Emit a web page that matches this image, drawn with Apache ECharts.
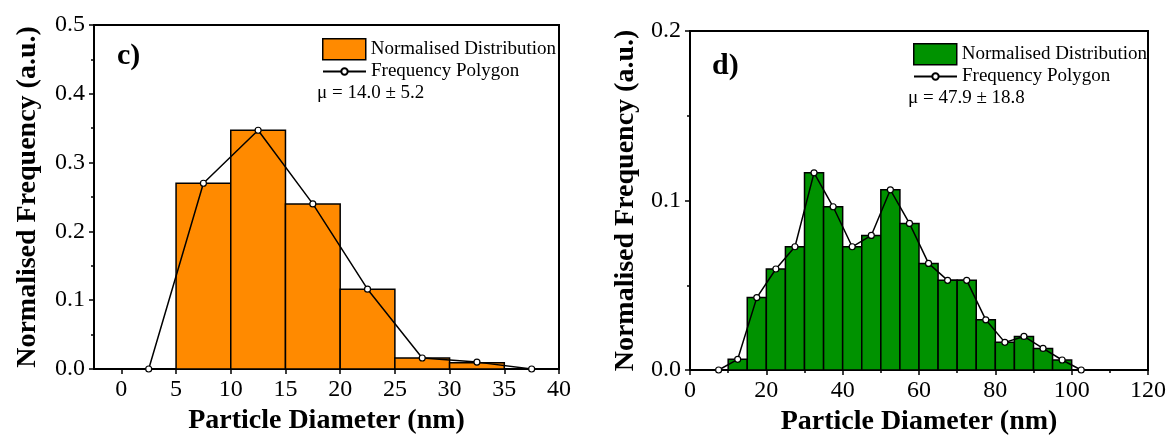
<!DOCTYPE html>
<html>
<head>
<meta charset="utf-8">
<script src="https://cdn.jsdelivr.net/npm/echarts@6/dist/echarts.min.js"></script>
<style>
  html, body { margin: 0; padding: 0; background: #fff; }
  #c { position: absolute; left: 0; top: 0; width: 590px; height: 436px; }
  #d { position: absolute; left: 590px; top: 0; width: 582px; height: 436px; }
</style>
</head>
<body>
<div id="c"></div>
<div id="d"></div>
<script>
// panel c) histogram, bins of 5 nm
const binStartC = [5, 10, 15, 20, 25, 30]
const freqC = [0.270, 0.347, 0.240, 0.116, 0.016, 0.009]
const polyXC = [2.5, 7.5, 12.5, 17.5, 22.5, 27.5, 32.5, 37.5]
const polyYC = [0, 0.270, 0.347, 0.240, 0.116, 0.016, 0.010, 0]
const xTicksC = [0, 5, 10, 15, 20, 25, 30, 35, 40]

// panel d) histogram, bins of 5 nm
const binStartD = [10, 15, 20, 25, 30, 35, 40, 45, 50, 55, 60, 65, 70, 75, 80, 85, 90, 95]
const freqD = [0.0063, 0.0427, 0.0596, 0.0727, 0.1163, 0.0963, 0.0727, 0.0794, 0.1063,
  0.0865, 0.0629, 0.0529, 0.0529, 0.0296, 0.0163, 0.0198, 0.0127, 0.0059]
const polyXD = [7.5, 12.5, 17.5, 22.5, 27.5, 32.5, 37.5, 42.5, 47.5, 52.5, 57.5, 62.5,
  67.5, 72.5, 77.5, 82.5, 87.5, 92.5, 97.5, 102.5]
const polyYD = [0, 0.0063, 0.0427, 0.0596, 0.0727, 0.1163, 0.0963, 0.0727, 0.0794, 0.1063,
  0.0865, 0.0629, 0.0529, 0.0529, 0.0296, 0.0163, 0.0198, 0.0127, 0.0059, 0]

const BIN = 5
const FONT = 'Liberation Serif'

function histOption(cfg) {
  const histData = cfg.starts.map((s, i) => [s, s + BIN, cfg.freq[i]])
  const polyData = cfg.polyX.map((x, i) => [x, cfg.polyY[i]])
  const color = cfg.color

  return {
    animation: false,
    grid: {
      left: cfg.grid.left, top: cfg.grid.top, width: cfg.grid.width, height: cfg.grid.height,
      outerBoundsMode: 'none',
      show: true, borderColor: '#000', borderWidth: 2, backgroundColor: 'transparent',
    },
    xAxis: {
      type: 'value',
      min: cfg.xMin,
      max: cfg.xMax,
      interval: cfg.xInterval,
      name: 'Particle Diameter (nm)',
      nameLocation: 'middle',
      nameGap: 37,
      nameTextStyle: { fontFamily: FONT, fontWeight: 'bold', fontSize: 28, color: '#000' },
      axisLine: { onZero: false, lineStyle: { color: '#000', width: 2 } },
      axisTick: { length: 5, lineStyle: { color: '#000', width: 1.5 }, customValues: cfg.xTicks },
      minorTick: { show: cfg.xMinor, splitNumber: 2, length: 3, lineStyle: { color: '#000', width: 1.5 } },
      axisLabel: { fontFamily: FONT, fontSize: 24, color: '#000', margin: 9, customValues: cfg.xTicks },
      splitLine: { show: false },
    },
    yAxis: {
      type: 'value',
      min: 0,
      max: cfg.yMax,
      interval: 0.1,
      name: 'Normalised Frequency (a.u.)',
      nameLocation: 'middle',
      nameGap: cfg.yNameGap,
      nameTextStyle: { fontFamily: FONT, fontWeight: 'bold', fontSize: 28, color: '#000' },
      axisLine: { onZero: false, lineStyle: { color: '#000', width: 2 } },
      axisTick: { length: 5, lineStyle: { color: '#000', width: 1.5 } },
      minorTick: { show: true, splitNumber: 2, length: 3, lineStyle: { color: '#000', width: 1.5 } },
      axisLabel: { fontFamily: FONT, fontSize: 24, color: '#000', margin: 9, formatter: v => v.toFixed(1) },
      splitLine: { show: false },
      minorSplitLine: { show: false },
    },
    legend: [
      {
        selectedMode: false,
        left: cfg.legendX, top: cfg.legendY,
        itemWidth: 43, itemHeight: 21,
        textStyle: { fontFamily: FONT, fontSize: 19, color: '#000' },
        data: [{ name: 'Normalised Distribution', icon: 'rect',
          itemStyle: { color: color, borderColor: '#000', borderWidth: 1.5 } }],
      },
      {
        selectedMode: false,
        left: cfg.legendX, top: cfg.legendY + cfg.legendStep,
        itemWidth: 43, itemHeight: 8,
        textStyle: { fontFamily: FONT, fontSize: 19, color: '#000' },
        data: ['Frequency Polygon'],
      },
    ],
    graphic: [
      {
        type: 'text', left: cfg.legendX, top: cfg.legendY + cfg.legendStep * 2 + 3,
        style: { text: cfg.mu, font: '19px "Liberation Serif"', fill: '#000' },
      },
      {
        type: 'text', left: cfg.panelX, top: cfg.panelY,
        style: { text: cfg.panel, font: 'bold 30px "Liberation Serif"', fill: '#000' },
      },
    ],
    series: [
      {
        name: 'Normalised Distribution',
        type: 'custom',
        itemStyle: { color: color },
        encode: { x: [0, 1], y: 2 },
        data: histData,
        renderItem: (params, api) => {
          const p0 = api.coord([api.value(0), 0])
          const p1 = api.coord([api.value(1), api.value(2)])
          return {
            type: 'rect',
            shape: { x: p0[0], y: p1[1], width: p1[0] - p0[0], height: p0[1] - p1[1] },
            style: { fill: color, stroke: '#000', lineWidth: 1.5 },
          }
        },
        z: 2,
      },
      {
        name: 'Frequency Polygon',
        type: 'line',
        data: polyData,
        symbol: 'circle',
        symbolSize: 6,
        itemStyle: { color: '#fff', borderColor: '#000', borderWidth: 1.2 },
        lineStyle: { color: '#000', width: 1.5 },
        z: 3,
      },
    ],
  }
}

const chartC = echarts.init(document.getElementById('c'))
chartC.setOption(histOption({
  starts: binStartC, freq: freqC, polyX: polyXC, polyY: polyYC,
  color: '#FF8A00',
  grid: { left: 94, top: 25, width: 465, height: 344 },
  xMin: -2.5, xMax: 40, xInterval: undefined, xTicks: xTicksC, xMinor: false,
  yMax: 0.5, yNameGap: 52,
  legendX: 317, legendY: 33, legendStep: 24,
  mu: 'μ = 14.0 ± 5.2',
  panel: 'c)', panelX: 117, panelY: 41,
}))

const chartD = echarts.init(document.getElementById('d'))
chartD.setOption(histOption({
  starts: binStartD, freq: freqD, polyX: polyXD, polyY: polyYD,
  color: '#009200',
  grid: { left: 100, top: 31, width: 458, height: 339 },
  xMin: 0, xMax: 120, xInterval: 20, xTicks: undefined, xMinor: true,
  yMax: 0.2, yNameGap: 48,
  legendX: 318, legendY: 38, legendStep: 24,
  mu: 'μ = 47.9 ± 18.8',
  panel: 'd)', panelX: 122, panelY: 51,
}))
</script>
</body>
</html>
